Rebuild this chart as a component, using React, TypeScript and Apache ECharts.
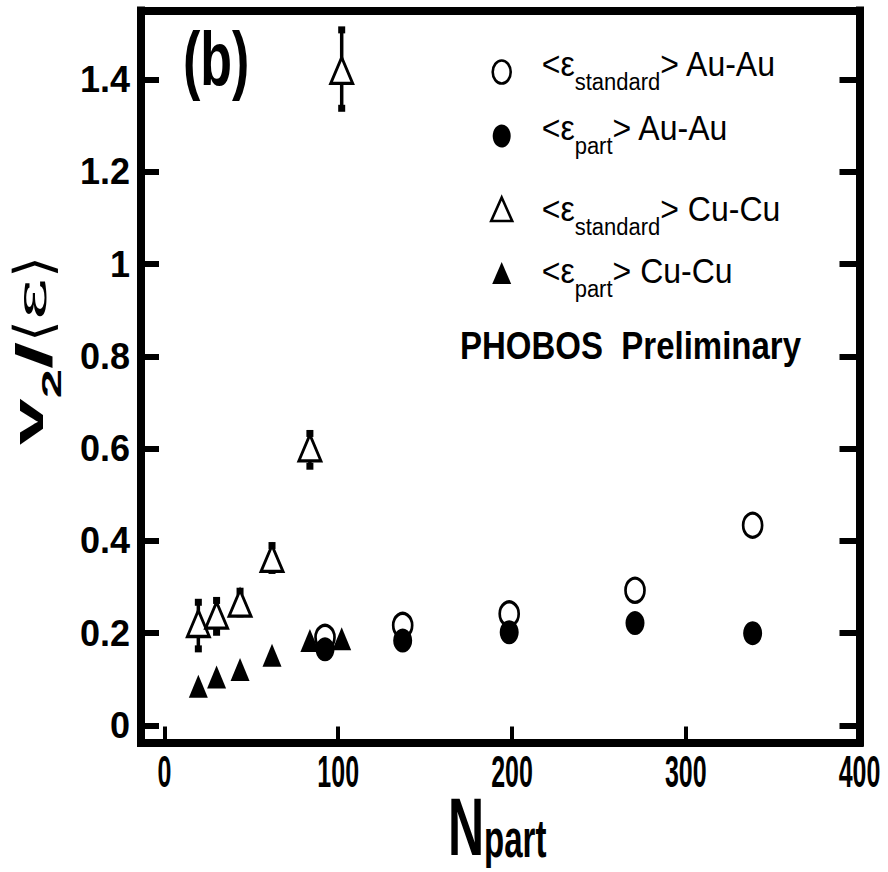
import React, { useEffect, useRef } from 'react';
import * as echarts from 'echarts';

// ---- data ----
const auNpart = [92.4, 137.1, 198.4, 270.8, 338.5];
const auStandard = [0.191, 0.217, 0.242, 0.293, 0.434];
const auPart = [0.165, 0.184, 0.202, 0.222, 0.2];
const cuNpart = [19.5, 30.0, 43.5, 61.9, 83.7, 102.0];
const cuStandard = [0.221, 0.239, 0.265, 0.362, 0.602, 1.42];
const cuStandardLow = [0.166, 0.202, 0.242, 0.336, 0.562, 1.338];
const cuStandardHigh = [0.267, 0.271, 0.291, 0.39, 0.633, 1.508];
const cuPart = [0.085, 0.105, 0.121, 0.152, 0.184, 0.188];
const xTicks = [0, 100, 200, 300, 400];
const yTicks = [0, 0.2, 0.4, 0.6, 0.8, 1, 1.2, 1.4];
const seriesNames = ['<εstandard> Au-Au', '<εpart> Au-Au', '<εstandard> Cu-Cu', '<εpart> Cu-Cu'];

const FONT = '"Liberation Sans", Arial, Helvetica, sans-serif';

let _ctx: CanvasRenderingContext2D | null = null;
function tw(text: string, font: string): number {
  if (!_ctx) _ctx = document.createElement('canvas').getContext('2d');
  _ctx!.font = font;
  return _ctx!.measureText(text).width;
}

type Seg = { t: string; size: number; bold?: boolean; dy?: number; fam?: string; sx?: number };

function textEl(x: number, baseline: number, t: string, size: number, weight: string, fam: string, sx: number, sy: number, align = 'left'): any {
  return {
    type: 'text',
    x,
    y: baseline - 0.3465 * size * sy,
    scaleX: sx,
    scaleY: sy,
    silent: true,
    style: {
      text: t,
      fontSize: size,
      fontWeight: weight,
      fontFamily: fam,
      fill: '#000',
      align,
      textAlign: align,
      verticalAlign: 'middle',
      textVerticalAlign: 'middle',
    },
  };
}

function segs(x0: number, baseline: number, list: Seg[], sy = 1): any[] {
  let x = x0;
  const out: any[] = [];
  for (const s of list) {
    const fam = s.fam || FONT;
    const weight = s.bold ? 'bold' : 'normal';
    const font = `${weight} ${s.size}px ${fam}`;
    const sx = s.sx || 1;
    out.push(textEl(x, baseline + (s.dy || 0) * sy, s.t, s.size, weight, fam, sx, sy));
    x += tw(s.t, font) * sx;
  }
  return out;
}

function buildGraphic(): any[] {
  const legendX = 501.7;
  const textX = 541.7;
  const graphic: any[] = [];

  // legend symbols
  graphic.push({ type: 'ellipse', shape: { cx: legendX, cy: 72, rx: 9, ry: 11.5 }, style: { fill: '#fff', stroke: '#000', lineWidth: 2.6 } });
  graphic.push({ type: 'ellipse', shape: { cx: legendX, cy: 136, rx: 9, ry: 11.5 }, style: { fill: '#000' } });
  graphic.push({ type: 'polygon', shape: { points: [[legendX, 197.5], [legendX + 10.5, 221], [legendX - 10.5, 221]] }, style: { fill: '#fff', stroke: '#000', lineWidth: 2.6, lineJoin: 'miter' } });
  graphic.push({ type: 'polygon', shape: { points: [[legendX, 262], [legendX + 9.5, 284], [legendX - 9.5, 284]] }, style: { fill: '#000' } });

  const sub = 13;
  const ls = 1.1;
  graphic.push(...segs(textX, 76, [
    { t: '<ε', size: 32 }, { t: 'standard', size: 22, dy: sub }, { t: '> Au-Au', size: 32 },
  ], ls));
  graphic.push(...segs(textX, 140, [
    { t: '<ε', size: 32 }, { t: 'part', size: 22, dy: sub }, { t: '> Au-Au', size: 32 },
  ], ls));
  graphic.push(...segs(textX, 221, [
    { t: '<ε', size: 32 }, { t: 'standard', size: 22, dy: sub }, { t: '> Cu-Cu', size: 32 },
  ], ls));
  graphic.push(...segs(textX, 283, [
    { t: '<ε', size: 32 }, { t: 'part', size: 22, dy: sub }, { t: '> Cu-Cu', size: 32 },
  ], ls));
  graphic.push(...segs(460, 359, [{ t: 'PHOBOS  Preliminary', size: 33, bold: true }], 1.2));

  // panel label
  graphic.push(...segs(183, 85, [{ t: '(b)', size: 52, bold: true }], 1.45));

  // x axis title
  graphic.push(...segs(448, 855, [
    { t: 'N', size: 50, bold: true }, { t: 'part', size: 33, bold: true, dy: 1.5 },
  ], 1.65));

  // y axis title (rotated, reading bottom to top)
  graphic.push({
    type: 'group',
    x: 43,
    y: 445,
    rotation: Math.PI / 2,
    scaleX: 1.95,
    silent: true,
    children: segs(0, 0, [
      { t: 'v', size: 43, bold: true },
      { t: '2', size: 27, bold: true, dy: 18 },
      { t: '/', size: 50, bold: true, dy: 8 },
      { t: '⟨', size: 52, fam: '"DejaVu Sans", sans-serif', dy: 8, sx: 0.55 },
      { t: 'ε', size: 42, fam: '"DejaVu Serif", serif', dy: 3 },
      { t: '⟩', size: 52, fam: '"DejaVu Sans", sans-serif', dy: 8, sx: 0.55 },
    ]),
  });
  return graphic;
}

function buildOption(graphic: any[]): any {
  const axisLine = { show: true, onZero: false, lineStyle: { color: '#000', width: 8, cap: 'square' } };
  return {
    animation: false,
    backgroundColor: '#fff',
    grid: { left: 141, right: 28.5, top: 10.5, bottom: 129.5, containLabel: false },
    xAxis: [
      {
        type: 'value', position: 'bottom', min: -13.5, max: 400,
        axisLine,
        splitLine: { show: false },
        axisTick: { show: true, inside: true, length: 16, lineStyle: { color: '#000', width: 4 }, customValues: xTicks.slice(0, 4) },
        axisLabel: { show: false },
      },
      {
        type: 'value', position: 'top', min: -13.5, max: 400,
        axisLine, splitLine: { show: false }, axisTick: { show: false }, axisLabel: { show: false },
      },
    ],
    yAxis: [
      {
        type: 'value', position: 'left', min: -0.037, max: 1.55,
        axisLine,
        splitLine: { show: false },
        axisTick: { show: true, inside: true, length: 18, lineStyle: { color: '#000', width: 6 }, customValues: yTicks },
        axisLabel: { fontFamily: FONT, fontWeight: 'bold', fontSize: 36, color: '#000', margin: 11, customValues: yTicks },
      },
      {
        type: 'value', position: 'right', min: -0.037, max: 1.55,
        axisLine,
        splitLine: { show: false },
        axisTick: { show: true, inside: true, length: 20, lineStyle: { color: '#000', width: 6 }, customValues: yTicks },
        axisLabel: { show: false },
      },
    ],
    series: [
      {
        type: 'custom',
        name: 'Cu-Cu error',
        silent: true,
        z: 1,
        data: cuNpart.map((x, i) => [x, cuStandardLow[i], cuStandardHigh[i]]),
        encode: { x: 0, y: [1, 2] },
        renderItem: (_p: any, api: any) => {
          const x = api.value(0);
          const lo = api.coord([x, api.value(1)]);
          const hi = api.coord([x, api.value(2)]);
          const c = 7;
          return {
            type: 'group',
            children: [
              { type: 'line', shape: { x1: lo[0], y1: lo[1], x2: hi[0], y2: hi[1] }, style: { stroke: '#000', lineWidth: 3.5 } },
              { type: 'rect', shape: { x: hi[0] - c / 2, y: hi[1] - c / 2, width: c, height: c }, style: { fill: '#000' } },
              { type: 'rect', shape: { x: lo[0] - c / 2, y: lo[1] - c / 2, width: c, height: c }, style: { fill: '#000' } },
            ],
          };
        },
      },
      {
        type: 'scatter', name: seriesNames[0], z: 3,
        data: auNpart.map((x, i) => [x, auStandard[i]]),
        symbol: 'circle', symbolSize: [19, 24],
        itemStyle: { color: '#fff', borderColor: '#000', borderWidth: 3, opacity: 1 },
      },
      {
        type: 'scatter', name: seriesNames[1], z: 4,
        data: auNpart.map((x, i) => [x, auPart[i]]),
        symbol: 'circle', symbolSize: [19, 24],
        itemStyle: { color: '#000', opacity: 1 },
      },
      {
        type: 'scatter', name: seriesNames[2], z: 3,
        data: cuNpart.map((x, i) => [x, cuStandard[i]]),
        symbol: 'triangle', symbolSize: [22, 26],
        itemStyle: { color: '#fff', borderColor: '#000', borderWidth: 3, opacity: 1 },
      },
      {
        type: 'scatter', name: seriesNames[3], z: 4,
        data: cuNpart.map((x, i) => [x, cuPart[i]]),
        symbol: 'triangle', symbolSize: [19, 23],
        itemStyle: { color: '#000', opacity: 1 },
      },
    ],
    graphic,
  };
}

export default function App() {
  const ref = useRef<HTMLDivElement>(null);
  useEffect(() => {
    document.body.style.margin = '0';
    if (!ref.current) return;
    const chart = echarts.init(ref.current, undefined, { renderer: 'svg' });
    const graphic = buildGraphic();
    chart.setOption(buildOption(graphic));
    // x tick labels: placed through the x axis scale, drawn as tall condensed text
    const xLabels = xTicks.map((v) => {
      const px = chart.convertToPixel({ xAxisIndex: 0 }, v) as number;
      return textEl(px, 787, String(v), 25, 'bold', FONT, 1, 1.8, 'center');
    });
    chart.setOption({ graphic: [...graphic, ...xLabels] });
    return () => chart.dispose();
  }, []);
  return <div ref={ref} style={{ width: 888, height: 872, background: '#fff' }} />;
}
